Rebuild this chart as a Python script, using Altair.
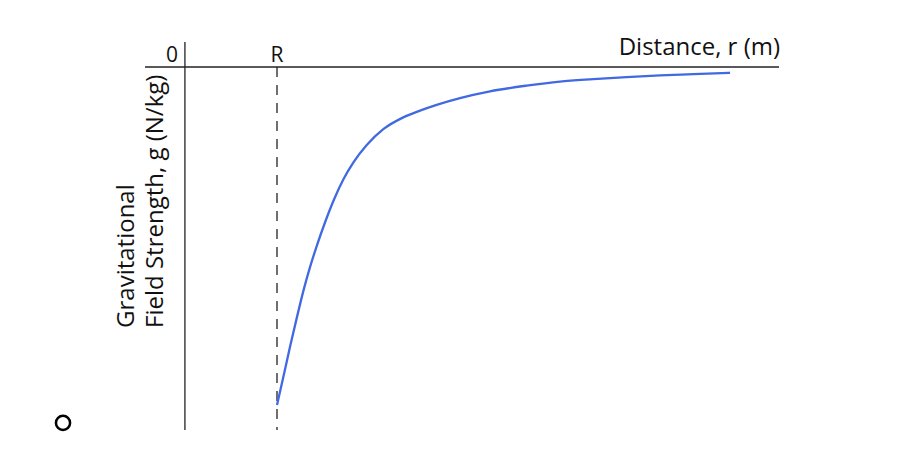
import altair as alt
import pandas as pd

# Curve: distance r (in units of R) and field strength g (relative, negative = toward planet)
r_vals = [1.000, 1.068, 1.140, 1.212, 1.283, 1.355, 1.427, 1.516, 1.613, 1.713,
          1.820, 1.965, 2.143, 2.358, 2.538, 2.717, 2.968, 3.290, 3.685, 4.043,
          4.401, 4.760, 5.118, 5.476, 5.871]
g_vals = [-1.000, -0.917, -0.828, -0.743, -0.663, -0.592, -0.530, -0.460, -0.392, -0.333,
          -0.283, -0.231, -0.184, -0.149, -0.129, -0.112, -0.092, -0.072, -0.055, -0.043,
          -0.036, -0.030, -0.025, -0.021, -0.017]

# Axis lines (data coords)
x_axis_r = [-0.419, 6.398]
y_axis_g = [0.074, -1.074]
R_value = 1.0

# Text labels
label_texts = ["0", "R", "Distance, r (m)"]
label_r = [-0.0645, 1.0, 6.409]
label_g = [0.0148, 0.0148, 0.0355]
label_align = ["right", "center", "right"]
label_size = [21, 21, 24]

ylab_texts = ["Gravitational", "Field Strength, g (N/kg)"]
ylab_r = [-0.5376, -0.2258]
ylab_g = [-0.772, -0.772]

circle_r = [-1.301]
circle_g = [-1.053]

xs = alt.Scale(domain=[-1.89247, 7.59140], nice=False, zero=False)
ys = alt.Scale(domain=[-1.16864, 0.17456], nice=False, zero=False)

curve_df = pd.DataFrame({"r": r_vals, "g": g_vals})
curve = alt.Chart(curve_df).mark_line(color="#4169E1", strokeWidth=2.3, interpolate="monotone").encode(
    x=alt.X("r:Q", scale=xs, axis=None),
    y=alt.Y("g:Q", scale=ys, axis=None),
)

xaxis_df = pd.DataFrame({"r": [x_axis_r[0]], "r2": [x_axis_r[1]], "g": [0.0]})
xaxis = alt.Chart(xaxis_df).mark_rule(color="#222222", strokeWidth=1.3).encode(
    x=alt.X("r:Q", scale=xs, axis=None), x2="r2:Q", y=alt.Y("g:Q", scale=ys, axis=None)
)

yaxis_df = pd.DataFrame({"r": [0.01], "g": [y_axis_g[0]], "g2": [y_axis_g[1]]})
yaxis = alt.Chart(yaxis_df).mark_rule(color="#222222", strokeWidth=1.3).encode(
    x=alt.X("r:Q", scale=xs, axis=None), y=alt.Y("g:Q", scale=ys, axis=None), y2="g2:Q"
)

rline_df = pd.DataFrame({"r": [R_value], "g": [0.0], "g2": [y_axis_g[1]]})
rline = alt.Chart(rline_df).mark_rule(color="#222222", strokeWidth=1.3, strokeDash=[10, 8]).encode(
    x=alt.X("r:Q", scale=xs, axis=None), y=alt.Y("g:Q", scale=ys, axis=None), y2="g2:Q"
)

layers = [xaxis, yaxis, rline, curve]

for t, r, g, a, s in zip(label_texts, label_r, label_g, label_align, label_size):
    df = pd.DataFrame({"r": [r], "g": [g], "t": [t]})
    layers.append(
        alt.Chart(df).mark_text(align=a, baseline="alphabetic", font="Open Sans", fontSize=s, color="#111111").encode(
            x=alt.X("r:Q", scale=xs, axis=None), y=alt.Y("g:Q", scale=ys, axis=None), text="t:N"
        )
    )

ylab_df = pd.DataFrame({"r": ylab_r, "g": ylab_g, "t": ylab_texts})
layers.append(
    alt.Chart(ylab_df).mark_text(align="left", baseline="alphabetic", angle=270, font="Open Sans",
                                 fontSize=24, color="#111111").encode(
        x=alt.X("r:Q", scale=xs, axis=None), y=alt.Y("g:Q", scale=ys, axis=None), text="t:N"
    )
)

circ_df = pd.DataFrame({"r": circle_r, "g": circle_g})
layers.append(
    alt.Chart(circ_df).mark_point(shape="circle", filled=False, color="#000000", strokeWidth=2.5, size=200, opacity=1).encode(
        x=alt.X("r:Q", scale=xs, axis=None), y=alt.Y("g:Q", scale=ys, axis=None)
    )
)

chart = alt.layer(*layers).properties(
    width=882, height=454, autosize=alt.AutoSizeParams(type="none"), padding=0
).configure_view(stroke=None)

chart.save("out.html", embed_options={"renderer": "svg", "actions": False})
